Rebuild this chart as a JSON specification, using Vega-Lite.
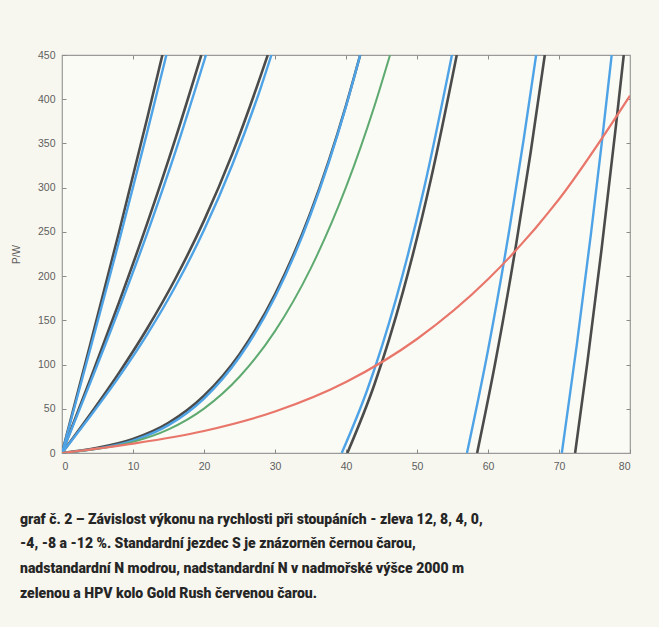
{
  "$schema": "https://vega.github.io/schema/vega-lite/v6.json",
  "width": 568,
  "height": 398,
  "autosize": "none",
  "padding": {"left": 62, "top": 55, "right": 29, "bottom": 174},
  "background": "#f8f7ef",
  "title": {
    "text": [
      "graf č. 2 – Závislost výkonu na rychlosti při stoupáních - zleva 12, 8, 4, 0,",
      "-4, -8 a -12 %. Standardní jezdec S je znázorněn černou čarou,",
      "nadstandardní N modrou, nadstandardní N v nadmořské výšce 2000 m",
      "zelenou a HPV kolo Gold Rush červenou čarou."
    ],
    "orient": "bottom",
    "anchor": "start",
    "frame": "group",
    "dx": -42,
    "offset": 41,
    "font": "Roboto",
    "fontSize": 14,
    "fontWeight": 900,
    "color": "#262626",
    "lineHeight": 24.8
  },
  "datasets": {
    "curves": [
      {"rider": "S", "series": "S12", "v": 0, "P": 0},
      {"rider": "S", "series": "S12", "v": 4, "P": 123.3},
      {"rider": "S", "series": "S12", "v": 8, "P": 248.8},
      {"rider": "S", "series": "S12", "v": 12, "P": 378.5},
      {"rider": "S", "series": "S12", "v": 14.14, "P": 450},
      {"rider": "S", "series": "S8", "v": 0, "P": 0},
      {"rider": "S", "series": "S8", "v": 4, "P": 83.7},
      {"rider": "S", "series": "S8", "v": 8, "P": 169.6},
      {"rider": "S", "series": "S8", "v": 12, "P": 259.6},
      {"rider": "S", "series": "S8", "v": 16, "P": 356.0},
      {"rider": "S", "series": "S8", "v": 19.62, "P": 450},
      {"rider": "S", "series": "S4", "v": 0, "P": 0},
      {"rider": "S", "series": "S4", "v": 4, "P": 44.1},
      {"rider": "S", "series": "S4", "v": 8, "P": 90.3},
      {"rider": "S", "series": "S4", "v": 12, "P": 140.8},
      {"rider": "S", "series": "S4", "v": 16, "P": 197.6},
      {"rider": "S", "series": "S4", "v": 20, "P": 262.7},
      {"rider": "S", "series": "S4", "v": 24, "P": 338.5},
      {"rider": "S", "series": "S4", "v": 28, "P": 426.9},
      {"rider": "S", "series": "S4", "v": 28.98, "P": 450},
      {"rider": "S", "series": "S0", "v": 0, "P": 0},
      {"rider": "S", "series": "S0", "v": 5, "P": 5.9},
      {"rider": "S", "series": "S0", "v": 10, "P": 15.9},
      {"rider": "S", "series": "S0", "v": 15, "P": 34.1},
      {"rider": "S", "series": "S0", "v": 20, "P": 64.7},
      {"rider": "S", "series": "S0", "v": 25, "P": 111.7},
      {"rider": "S", "series": "S0", "v": 30, "P": 179.4},
      {"rider": "S", "series": "S0", "v": 35, "P": 271.7},
      {"rider": "S", "series": "S0", "v": 40, "P": 392.9},
      {"rider": "S", "series": "S0", "v": 42, "P": 450},
      {"rider": "S", "series": "Sm4", "v": 40.19, "P": 0},
      {"rider": "S", "series": "Sm4", "v": 44, "P": 77.5},
      {"rider": "S", "series": "Sm4", "v": 48, "P": 181.6},
      {"rider": "S", "series": "Sm4", "v": 52, "P": 310.9},
      {"rider": "S", "series": "Sm4", "v": 55.6, "P": 450},
      {"rider": "S", "series": "Sm8", "v": 58.47, "P": 0},
      {"rider": "S", "series": "Sm8", "v": 61, "P": 101.1},
      {"rider": "S", "series": "Sm8", "v": 64, "P": 237.9},
      {"rider": "S", "series": "Sm8", "v": 66, "P": 339.5},
      {"rider": "S", "series": "Sm8", "v": 68.0, "P": 450},
      {"rider": "S", "series": "Sm12", "v": 72.27, "P": 0},
      {"rider": "S", "series": "Sm12", "v": 74, "P": 102.8},
      {"rider": "S", "series": "Sm12", "v": 76, "P": 230.7},
      {"rider": "S", "series": "Sm12", "v": 78, "P": 368.7},
      {"rider": "S", "series": "Sm12", "v": 79.12, "P": 450},
      {"rider": "N", "series": "N12", "v": 0, "P": 0},
      {"rider": "N", "series": "N12", "v": 4, "P": 118.1},
      {"rider": "N", "series": "N12", "v": 8, "P": 238.3},
      {"rider": "N", "series": "N12", "v": 12, "P": 362.8},
      {"rider": "N", "series": "N12", "v": 14.7, "P": 450},
      {"rider": "N", "series": "N8", "v": 0, "P": 0},
      {"rider": "N", "series": "N8", "v": 4, "P": 79.9},
      {"rider": "N", "series": "N8", "v": 8, "P": 162.0},
      {"rider": "N", "series": "N8", "v": 12, "P": 248.4},
      {"rider": "N", "series": "N8", "v": 16, "P": 341.3},
      {"rider": "N", "series": "N8", "v": 20.28, "P": 450},
      {"rider": "N", "series": "N4", "v": 0, "P": 0},
      {"rider": "N", "series": "N4", "v": 4, "P": 41.8},
      {"rider": "N", "series": "N4", "v": 8, "P": 85.8},
      {"rider": "N", "series": "N4", "v": 12, "P": 134.1},
      {"rider": "N", "series": "N4", "v": 16, "P": 188.8},
      {"rider": "N", "series": "N4", "v": 20, "P": 252.1},
      {"rider": "N", "series": "N4", "v": 24, "P": 326.2},
      {"rider": "N", "series": "N4", "v": 28, "P": 413.2},
      {"rider": "N", "series": "N4", "v": 29.5, "P": 450},
      {"rider": "N", "series": "N0", "v": 0, "P": 0},
      {"rider": "N", "series": "N0", "v": 5, "P": 4.9},
      {"rider": "N", "series": "N0", "v": 10, "P": 14.0},
      {"rider": "N", "series": "N0", "v": 15, "P": 31.5},
      {"rider": "N", "series": "N0", "v": 20, "P": 61.6},
      {"rider": "N", "series": "N0", "v": 25, "P": 108.5},
      {"rider": "N", "series": "N0", "v": 30, "P": 176.3},
      {"rider": "N", "series": "N0", "v": 35, "P": 269.4},
      {"rider": "N", "series": "N0", "v": 40, "P": 391.9},
      {"rider": "N", "series": "N0", "v": 42, "P": 450},
      {"rider": "N", "series": "Nm4", "v": 39.4, "P": 0},
      {"rider": "N", "series": "Nm4", "v": 43, "P": 71.5},
      {"rider": "N", "series": "Nm4", "v": 47, "P": 172.9},
      {"rider": "N", "series": "Nm4", "v": 51, "P": 299.5},
      {"rider": "N", "series": "Nm4", "v": 54.92, "P": 450},
      {"rider": "N", "series": "Nm8", "v": 57.04, "P": 0},
      {"rider": "N", "series": "Nm8", "v": 60, "P": 116.2},
      {"rider": "N", "series": "Nm8", "v": 63, "P": 252.2},
      {"rider": "N", "series": "Nm8", "v": 65, "P": 353.3},
      {"rider": "N", "series": "Nm8", "v": 66.78, "P": 450},
      {"rider": "N", "series": "Nm12", "v": 70.4, "P": 0},
      {"rider": "N", "series": "Nm12", "v": 72.5, "P": 121.9},
      {"rider": "N", "series": "Nm12", "v": 74.5, "P": 247.8},
      {"rider": "N", "series": "Nm12", "v": 76, "P": 348.9},
      {"rider": "N", "series": "Nm12", "v": 77.42, "P": 450},
      {"rider": "G", "series": "G0", "v": 0, "P": 0},
      {"rider": "G", "series": "G0", "v": 5, "P": 4.7},
      {"rider": "G", "series": "G0", "v": 10, "P": 12.6},
      {"rider": "G", "series": "G0", "v": 15, "P": 26.7},
      {"rider": "G", "series": "G0", "v": 20, "P": 50.2},
      {"rider": "G", "series": "G0", "v": 25, "P": 86.2},
      {"rider": "G", "series": "G0", "v": 30, "P": 137.8},
      {"rider": "G", "series": "G0", "v": 35, "P": 208.2},
      {"rider": "G", "series": "G0", "v": 40, "P": 300.5},
      {"rider": "G", "series": "G0", "v": 44, "P": 392.2},
      {"rider": "G", "series": "G0", "v": 46.2, "P": 450},
      {"rider": "R", "series": "R0", "v": 0, "P": 0},
      {"rider": "R", "series": "R0", "v": 10, "P": 10.6},
      {"rider": "R", "series": "R0", "v": 20, "P": 24.9},
      {"rider": "R", "series": "R0", "v": 30, "P": 46.9},
      {"rider": "R", "series": "R0", "v": 40, "P": 80.3},
      {"rider": "R", "series": "R0", "v": 50, "P": 128.9},
      {"rider": "R", "series": "R0", "v": 60, "P": 196.4},
      {"rider": "R", "series": "R0", "v": 70, "P": 286.9},
      {"rider": "R", "series": "R0", "v": 80, "P": 404.0}
    ]
  },
  "data": {"name": "curves"},
  "layer": [
    {
      "transform": [{"filter": "datum.rider === 'S'"}],
      "mark": {"type": "line", "color": "#4b4b4b", "strokeWidth": 2.6, "interpolate": "monotone", "clip": true},
      "encoding": {
        "x": {"field": "v", "type": "quantitative", "scale": {"domain": [0, 80], "nice": false},
          "axis": {"orient": "bottom", "values": [0, 10, 20, 30, 40, 50, 60, 70, 80], "title": null, "grid": false, "domain": false, "tickSize": -4, "labelPadding": 12}},
        "y": {"field": "P", "type": "quantitative", "scale": {"domain": [0, 450], "nice": false},
          "axis": {"orient": "left", "values": [0, 50, 100, 150, 200, 250, 300, 350, 400, 450], "title": "P/W", "grid": false, "domain": false, "tickSize": -4, "labelPadding": 11, "titlePadding": 16}},
        "detail": {"field": "series"}
      }
    },
    {
      "transform": [{"filter": "datum.rider === 'N'"}],
      "mark": {"type": "line", "color": "#4ea3e6", "strokeWidth": 2.4, "interpolate": "monotone", "clip": true},
      "encoding": {
        "x": {"field": "v", "type": "quantitative", "axis": null},
        "y": {"field": "P", "type": "quantitative", "axis": null},
        "detail": {"field": "series"}
      }
    },
    {
      "transform": [{"filter": "datum.rider === 'G'"}],
      "mark": {"type": "line", "color": "#5eaa70", "strokeWidth": 2, "interpolate": "monotone", "clip": true},
      "encoding": {
        "x": {"field": "v", "type": "quantitative", "axis": null},
        "y": {"field": "P", "type": "quantitative", "axis": null},
        "detail": {"field": "series"}
      }
    },
    {
      "transform": [{"filter": "datum.rider === 'R'"}],
      "mark": {"type": "line", "color": "#e8766a", "strokeWidth": 2.2, "interpolate": "monotone", "clip": true},
      "encoding": {
        "x": {"field": "v", "type": "quantitative",
          "axis": {"orient": "top", "values": [10, 20, 30, 40, 50, 60, 70], "labels": false, "title": null, "grid": false, "domain": false, "tickSize": -4}},
        "y": {"field": "P", "type": "quantitative",
          "axis": {"orient": "right", "values": [50, 100, 150, 200, 250, 300, 350, 400], "labels": false, "title": null, "grid": false, "domain": false, "tickSize": -4}},
        "detail": {"field": "series"}
      }
    }
  ],
  "resolve": {"axis": {"x": "independent", "y": "independent"}},
  "config": {
    "view": {"stroke": "#9a9a9a", "strokeWidth": 1.2, "fill": "#fbfbf5"},
    "axis": {
      "labelFont": "Liberation Sans",
      "labelFontSize": 10.5,
      "labelColor": "#5e5e5e",
      "tickColor": "#8a8a8a",
      "titleFont": "Liberation Sans",
      "titleFontSize": 10,
      "titleFontWeight": "normal",
      "titleColor": "#5e5e5e"
    }
  }
}
